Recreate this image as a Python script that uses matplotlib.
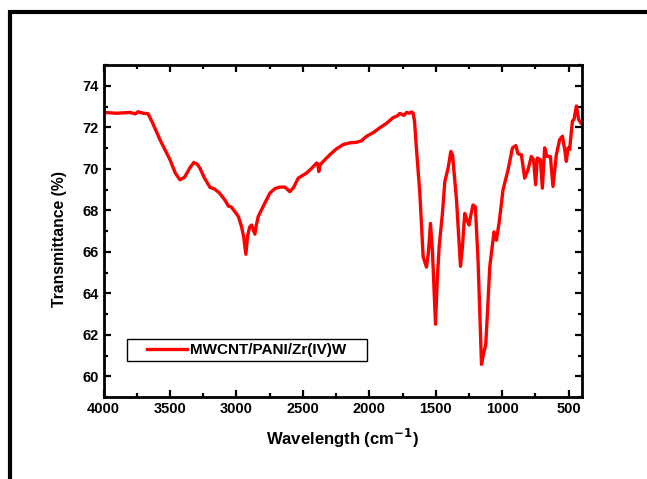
import matplotlib
matplotlib.use("Agg")
import matplotlib.pyplot as plt
from matplotlib.patches import Rectangle

# Data (wavenumber cm^-1, transmittance %)
wavenumber = [4000, 3950, 3900, 3850, 3800, 3760, 3740, 3700, 3665, 3630, 3575, 3500,
              3460, 3425, 3390, 3350, 3320, 3295, 3275, 3240, 3198, 3170, 3130, 3087,
              3060, 3040, 3011, 2985, 2961, 2945, 2929, 2915, 2900, 2886, 2870, 2861,
              2850, 2836, 2790, 2748, 2710, 2673, 2635, 2598, 2570, 2535, 2472, 2430,
              2397, 2388, 2380, 2370, 2347, 2297, 2250, 2197, 2150, 2096, 2060, 2021,
              1970, 1921, 1870, 1821, 1790, 1771, 1740, 1720, 1700, 1683, 1671, 1660,
              1645, 1620, 1595, 1570, 1555, 1540, 1525, 1502, 1490, 1475, 1450, 1432,
              1407, 1395, 1387, 1374, 1344, 1314, 1300, 1282, 1265, 1250, 1235, 1220,
              1202, 1182, 1156, 1140, 1124, 1110, 1094, 1062, 1044, 1024, 994, 956, 923,
              898, 881, 856, 831, 806, 781, 764, 749, 736, 713, 698, 681, 663, 638, 618,
              593, 568, 547, 530, 518, 505, 493, 472, 460, 442, 425, 410]
transmittance = [72.72, 72.70, 72.68, 72.70, 72.72, 72.65, 72.75, 72.68, 72.66, 72.20, 71.40,
                 70.44, 69.80, 69.47, 69.60, 70.05, 70.31, 70.22, 70.04, 69.55, 69.10,
                 69.05, 68.85, 68.50, 68.20, 68.17, 67.93, 67.70, 67.20, 66.70, 65.88,
                 66.80, 67.20, 67.29, 67.00, 66.85, 67.30, 67.70, 68.30, 68.83, 69.05,
                 69.12, 69.12, 68.90, 69.10, 69.55, 69.80, 70.05, 70.28, 70.25, 69.87,
                 70.20, 70.36, 70.68, 70.95, 71.17, 71.25, 71.28, 71.35, 71.57, 71.75,
                 71.98, 72.20, 72.47, 72.55, 72.67, 72.58, 72.72, 72.68, 72.74, 72.70,
                 72.30, 70.93, 68.83, 65.75, 65.26, 66.00, 67.37, 66.00, 62.51, 64.50,
                 66.23, 67.85, 69.39, 70.04, 70.50, 70.84, 70.68, 68.50, 65.30, 66.20,
                 67.85, 67.53, 67.29, 67.80, 68.26, 68.17, 65.59, 60.57, 61.10, 61.54,
                 63.20, 65.26, 66.96, 66.56, 67.37, 68.99, 69.96, 71.01, 71.12, 70.73,
                 70.68, 69.55, 69.96, 70.60, 70.44, 69.23, 70.52, 70.44, 69.07, 71.01,
                 70.60, 70.60, 69.15, 70.68, 71.41, 71.57, 70.93, 70.36, 71.01, 70.93,
                 72.30, 72.38, 73.03, 72.38, 72.22]

series_label = "MWCNT/PANI/Zr(IV)W"
x_ticks = [4000, 3500, 3000, 2500, 2000, 1500, 1000, 500]
y_ticks = [60, 62, 64, 66, 68, 70, 72, 74]

plt.rcParams['font.family'] = ['Liberation Sans', 'DejaVu Sans']
plt.rcParams['font.weight'] = 'bold'

fig = plt.figure(figsize=(6.47, 4.79), dpi=100)
ax = fig.add_axes([0.16, 0.1712, 0.7395, 0.6928])

ax.plot(wavenumber, transmittance, color='#ff0000', lw=2.4, label=series_label)

ax.set_xlim(4000, 400)
ax.set_ylim(59, 75)
ax.set_xticks(x_ticks)
ax.set_yticks(y_ticks)
ax.set_xticks(range(3750, 400, -500), minor=True)
ax.set_yticks(range(59, 76, 2), minor=True)

ax.tick_params(which='both', direction='in', top=True, right=True, width=1.6,
               labelsize=10.5, labeltop=False, labelright=False)
ax.tick_params(which='major', length=5)
ax.tick_params(which='minor', length=3)
for lab in ax.get_xticklabels() + ax.get_yticklabels():
    lab.set_fontweight('bold')
for sp in ax.spines.values():
    sp.set_linewidth(2)

ax.set_xlabel("Wavelength (cm$^{\\mathbf{-1}}$)", fontsize=12, fontweight='bold', labelpad=8)
ax.set_ylabel("Transmittance (%)", fontsize=11.3, fontweight='bold')
ax.yaxis.set_label_coords(-0.077, 0.475)

# legend frame drawn separately, content centred inside it
box_x0, box_y0, box_x1, box_y1 = 0.049, 0.1084, 0.5507, 0.1747
ax.add_patch(Rectangle((box_x0, box_y0), box_x1 - box_x0, box_y1 - box_y0,
                       transform=ax.transAxes, fill=False, edgecolor='black', lw=1.0, zorder=5))
leg = ax.legend(loc='center', bbox_to_anchor=((box_x0 + box_x1) / 2, (box_y0 + box_y1) / 2),
                frameon=False, fontsize=11, handlelength=2.6, handletextpad=0.2,
                borderpad=0, borderaxespad=0)
for t in leg.get_texts():
    t.set_fontweight('bold')

fig.patches.append(Rectangle((10 / 647, -0.2), 1.2, 1 - 11.5 / 479 + 0.2, transform=fig.transFigure,
                             fill=False, edgecolor='black', linewidth=3, clip_on=False))

fig.savefig('out.png', dpi=100)
